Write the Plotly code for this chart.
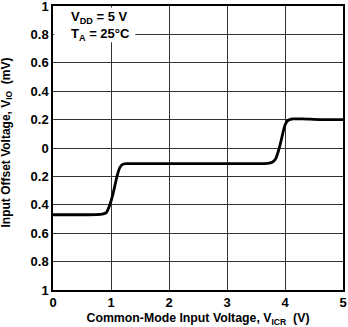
import plotly.graph_objects as go

# Data
vicr = [0.0, 0.3, 0.6, 0.85, 0.92, 0.98, 1.03, 1.07, 1.11, 1.15, 1.2, 1.26, 1.35, 1.6, 2.0, 2.5, 3.0, 3.5, 3.7, 3.78, 3.84, 3.88, 3.92, 3.96, 4.0, 4.04, 4.08, 4.15, 4.3, 4.6, 5.0]
vio = [-0.47, -0.47, -0.47, -0.465, -0.455, -0.40, -0.33, -0.26, -0.19, -0.14, -0.115, -0.11, -0.11, -0.11, -0.11, -0.11, -0.11, -0.11, -0.108, -0.10, -0.075, -0.03, 0.03, 0.10, 0.16, 0.19, 0.20, 0.205, 0.205, 0.2, 0.2]
ytick_vals = [1, 0.8, 0.6, 0.4, 0.2, 0, -0.2, -0.4, -0.6, -0.8, -1]
ytick_text = ["1", "0.8", "0.6", "0.4", "0.2", "0", "0.2", "0.4", "0.6", "0.8", "1"]
xtick_vals = [0, 1, 2, 3, 4, 5]

font_family = "Liberation Sans, Arial, sans-serif"

fig = go.Figure()
fig.add_trace(go.Scatter(x=vicr, y=vio, mode="lines",
                         line=dict(color="black", width=2.8, shape="spline", smoothing=0.6),
                         hoverinfo="skip"))

fig.add_shape(type="rect", xref="x", yref="y", x0=0.02, x1=1.42, y0=0.745, y1=0.99,
              fillcolor="white", line=dict(width=0), layer="between")

fig.add_annotation(x=0.27, y=0.99, xref="x", yref="y", xanchor="left", yanchor="top",
                   text="<b>V<sub>DD</sub> = 5 V</b><br><b>T<sub>A</sub> = 25°C</b>",
                   showarrow=False, align="left",
                   font=dict(family=font_family, size=13, color="black"))

# y-axis title as a rotated annotation
fig.add_annotation(x=-0.158, y=0.52, xref="paper", yref="paper", xanchor="center", yanchor="middle",
                   text="<b>Input Offset Voltage, V<sub>IO</sub>  (mV)</b>", textangle=-90,
                   showarrow=False, font=dict(family=font_family, size=12, color="black"))

fig.update_layout(
    width=348, height=327,
    margin=dict(l=53, r=5, t=6, b=37),
    paper_bgcolor="white", plot_bgcolor="white",
    showlegend=False,
    font=dict(family=font_family, size=13, color="black"),
)
fig.update_xaxes(range=[0, 5], tickvals=xtick_vals, showgrid=True, gridcolor="#333333", gridwidth=1,
                 showline=True, linecolor="black", linewidth=1.5, mirror=True, ticks="",
                 zeroline=False, ticklabeloverflow="allow", automargin=False,
                 tickfont=dict(family=font_family, size=13, color="black", weight="bold"),
                 title=dict(text="<b>Common-Mode Input Voltage, V<sub>ICR</sub>  (V)</b>",
                            font=dict(family=font_family, size=12.3, color="black"), standoff=4))
fig.update_yaxes(range=[-1, 1], tickvals=ytick_vals, ticktext=ytick_text, showgrid=True,
                 gridcolor="#333333", gridwidth=1,
                 showline=True, linecolor="black", linewidth=1.5, mirror=True, ticks="",
                 zeroline=False, ticklabeloverflow="allow", automargin=False,
                 tickfont=dict(family=font_family, size=13, color="black", weight="bold"))

fig.write_html("out.html")
